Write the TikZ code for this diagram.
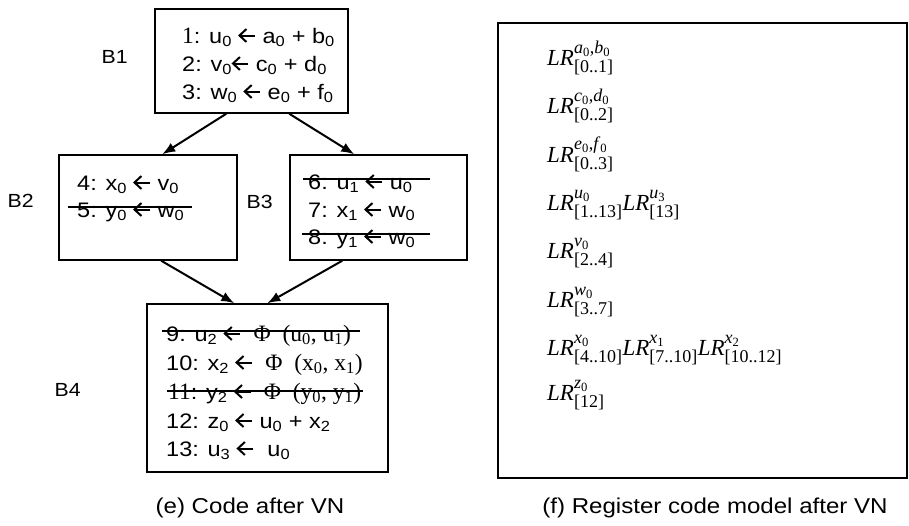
\documentclass[tikz,border=0pt]{standalone}
\usepackage{amsmath}
\usepackage{fontspec}
\setmainfont{Liberation Sans}[FakeStretch=1.12]
\newfontfamily\tnr{Liberation Serif}
\usetikzlibrary{arrows.meta,positioning,calc}
\DeclareMathSizes{23}{23}{18}{13}
\tikzset{
    blk/.style={
        draw,
        line width=1.5pt,
        inner sep=0pt
    },
    panel/.style={
        draw,
        line width=2pt,
        inner sep=0pt
    },
    codeline/.style={
        anchor=base west,
        inner sep=0pt,
        font=\fontsize{21}{25}\selectfont
    },
    lrline/.style={
        anchor=base west,
        inner sep=0pt,
        font=\fontsize{23}{27}\selectfont\tnr
    },
    blabel/.style={font=\fontsize{19}{22}\selectfont},
    caption/.style={font=\fontsize{21.5}{25}\selectfont},
    flow/.style={-{Latex[length=13pt,width=10pt]}, line width=2pt},
    strike/.style={line width=1.7pt}
}
% assignment arrow
\newcommand{\arr}{\tikz[x=1pt,y=1pt,baseline=0pt,line width=2pt]{%
    \draw (17,7.5) -- (1.5,7.5);
    \draw[line join=miter] (8.5,14) -- (1.5,7.5) -- (8.5,1);}}
\newcommand{\sv}[2]{#1\textsubscript{#2}}
\newcommand{\iv}[2]{\textit{#1}\textsubscript{#2}}
\newcommand{\serifpart}[1]{{\tnr\fontsize{23.5}{25}\selectfont #1}}
\newcommand{\lr}[2]{\textit{LR}$^{\text{#1}}_{\text{#2}}$}

\begin{document}
\begin{tikzpicture}[x=1pt,y=-1pt]
    \useasboundingbox (0,0) rectangle (909,525);

    % blocks
    \node[blk, minimum width=193pt, minimum height=104pt] (b1) at (251.5,61) {};
    \node[blk, minimum width=178pt, minimum height=105pt] (b2) at (148,207.5) {};
    \node[blk, minimum width=177pt, minimum height=105pt] (b3) at (378.5,207.5) {};
    \node[blk, minimum width=241pt, minimum height=168pt] (b4) at (267.5,388) {};

    \node[blabel, left=23pt of b1, yshift=4pt] (n1) {B1};
    \node[blabel, left=21pt of b2, yshift=7pt] (n2) {B2};
    \node[blabel, left=13pt of b3, yshift=6pt] (n3) {B3};
    \node[blabel, left=62pt of b4, yshift=-2pt] (n4) {B4};

    % code
    \node[codeline] (l1) at (182,43) {\serifpart{1}: \sv{u}{0} \arr{} \sv{a}{0} + \sv{b}{0}};
    \node[codeline] (l2) at (182,71) {2: \sv{v}{0}\arr{} \sv{c}{0} + \sv{d}{0}};
    \node[codeline] (l3) at (182,99) {3: \sv{w}{0} \arr{} \sv{e}{0} + \sv{f}{0}};
    \node[codeline] (l4) at (77,190) {4: \sv{x}{0} \arr{} \sv{v}{0}};
    \node[codeline] (l5) at (77,217) {5: \sv{y}{0} \arr{} \sv{w}{0}};
    \node[codeline] (l6) at (308,189) {6: \sv{u}{1} \arr{} \sv{u}{0}};
    \node[codeline] (l7) at (308,217) {7: \sv{x}{1} \arr{} \sv{w}{0}};
    \node[codeline] (l8) at (308,244) {8: \sv{y}{1} \arr{} \sv{w}{0}};
    \node[codeline] (l9) at (166,341) {9: \sv{u}{2} \arr{} \serifpart{\ Φ\ \ (\sv{u}{0}, \sv{u}{1})}};
    \node[codeline] (l10) at (166,370) {10: \sv{x}{2} \arr{} \serifpart{\ Φ\ \ (\sv{x}{0}, \sv{x}{1})}};
    \node[codeline] (l11) at (168,399) {\serifpart{11}: \sv{y}{2} \arr{} \serifpart{\ Φ\ \ (\sv{y}{0}, \sv{y}{1})}};
    \node[codeline] (l12) at (166,428) {12: \sv{z}{0} \arr{} \sv{u}{0} + \sv{x}{2}};
    \node[codeline] (l13) at (166,456) {13: \sv{u}{3} \arr{} \ \sv{u}{0}};

    \foreach \l/\a/\b/\h in {l5/9/8/10, l6/5/17/10, l8/6/15/10, l9/4/9/10, l11/1/2/8}
        \draw[strike] ($(\l.base west)+(-\a,-\h)$) -- ($(\l.base east)+(\b,-\h)$);

    \draw[flow] ($(b1.south west)+(72,0)$) -- ($(b2.north west)+(104,0)$);
    \draw[flow] ($(b1.south west)+(135,0)$) -- ($(b3.north west)+(65,0)$);
    \draw[flow] ($(b2.south west)+(103,0)$) -- ($(b4.north west)+(88,0)$);
    \draw[flow] ($(b3.south west)+(53,0)$) -- ($(b4.north west)+(121,0)$);

    % register model
    \node[panel, minimum width=409pt, minimum height=455pt] (regs) at (702.5,250.5) {};
    \node[lrline] (r1) at (547,65) {\lr{\iv{a}{0},\iv{b}{0}}{[0..1]}};
    \node[lrline] (r2) at (547,113) {\lr{\iv{c}{0},\iv{d}{0}}{[0..2]}};
    \node[lrline] (r3) at (547,162) {\lr{\iv{e}{0},\iv{f}{0}}{[0..3]}};
    \node[lrline] (r4) at (547,210) {\lr{\iv{u}{0}}{[1..13]}\lr{\iv{u}{3}}{[13]}};
    \node[lrline] (r5) at (547,258) {\lr{\iv{v}{0}}{[2..4]}};
    \node[lrline] (r6) at (547,307) {\lr{\iv{w}{0}}{[3..7]}};
    \node[lrline] (r7) at (547,355) {\lr{\iv{x}{0}}{[4..10]}\lr{\iv{x}{1}}{[7..10]}\lr{\iv{x}{2}}{[10..12]}};
    \node[lrline] (r8) at (547,400) {\lr{\iv{z}{0}}{[12]}};

    \node[caption] (capE) at (250,508) {(e) Code after VN};
    \node[caption] (capF) at (715,508) {(f) Register code model after VN};
\end{tikzpicture}
\end{document}
